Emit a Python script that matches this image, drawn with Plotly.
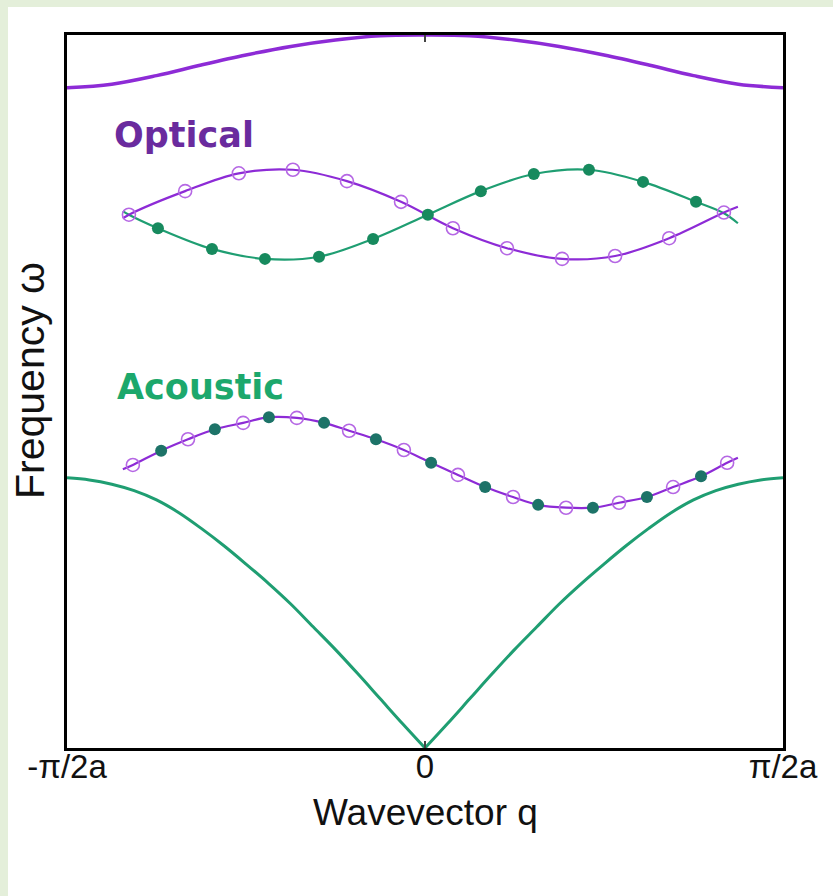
import plotly.graph_objects as go

# ---------------- data (q in units of pi/2a, omega normalised to the top of the frame) ----------------
q_opt = [-1.0, -0.875, -0.75, -0.625, -0.5, -0.375, -0.25, -0.125, 0.0,
         0.125, 0.25, 0.375, 0.5, 0.625, 0.75, 0.875, 1.0]
optical_branch = [0.926, 0.931, 0.943, 0.958, 0.972, 0.984, 0.993, 0.999, 1.000,
                  0.999, 0.993, 0.984, 0.972, 0.958, 0.943, 0.931, 0.926]

q_ac_left = [-1.0, -0.9375, -0.875, -0.8125, -0.75, -0.6875, -0.625, -0.5625, -0.5,
             -0.4375, -0.375, -0.3125, -0.25, -0.1875, -0.125, -0.0625, 0.0]
acoustic_left = [0.379, 0.376, 0.370, 0.361, 0.348, 0.330, 0.308, 0.284, 0.258,
                 0.231, 0.202, 0.170, 0.138, 0.104, 0.069, 0.034, 0.000]
q_ac_right = [0.0, 0.0625, 0.125, 0.1875, 0.25, 0.3125, 0.375, 0.4375, 0.5,
              0.5625, 0.625, 0.6875, 0.75, 0.8125, 0.875, 0.9375, 1.0]
acoustic_right = [0.000, 0.034, 0.069, 0.104, 0.138, 0.170, 0.202, 0.231, 0.258,
                  0.284, 0.308, 0.330, 0.348, 0.361, 0.370, 0.376, 0.379]

# optical-mode displacement sketch
opt_purple_line_q = [-0.844, -0.827, -0.670, -0.520, -0.369, -0.218, -0.067, 0.078, 0.229, 0.383, 0.531, 0.682, 0.835, 0.874]
opt_purple_line_w = [0.743, 0.748, 0.781, 0.806, 0.811, 0.795, 0.766, 0.729, 0.701, 0.686, 0.690, 0.715, 0.751, 0.759]
opt_purple_mark_q = [-0.827, -0.670, -0.520, -0.369, -0.218, -0.067, 0.078, 0.229, 0.383, 0.531, 0.682, 0.835]
opt_purple_mark_w = [0.748, 0.781, 0.806, 0.811, 0.795, 0.766, 0.729, 0.701, 0.686, 0.690, 0.715, 0.751]
opt_green_line_q = [-0.844, -0.827, -0.746, -0.595, -0.447, -0.296, -0.145, 0.008, 0.156, 0.304, 0.458, 0.609, 0.757, 0.835, 0.874]
opt_green_line_w = [0.753, 0.748, 0.729, 0.700, 0.686, 0.689, 0.714, 0.748, 0.781, 0.805, 0.811, 0.794, 0.766, 0.750, 0.736]
opt_green_mark_q = [-0.746, -0.595, -0.447, -0.296, -0.145, 0.008, 0.156, 0.304, 0.458, 0.609, 0.757]
opt_green_mark_w = [0.729, 0.700, 0.686, 0.689, 0.714, 0.748, 0.781, 0.805, 0.811, 0.794, 0.766]

# acoustic-mode displacement sketch
ac_line_q = [-0.844, -0.816, -0.737, -0.662, -0.587, -0.508, -0.436, -0.358, -0.282, -0.212, -0.137,
             -0.059, 0.017, 0.092, 0.168, 0.246, 0.316, 0.394, 0.469, 0.542, 0.620, 0.693, 0.771, 0.844, 0.874]
ac_line_w = [0.391, 0.397, 0.417, 0.433, 0.447, 0.456, 0.464, 0.463, 0.456, 0.445, 0.433,
             0.418, 0.400, 0.383, 0.366, 0.352, 0.341, 0.337, 0.337, 0.344, 0.352, 0.366, 0.381, 0.400, 0.407]
ac_purple_mark_q = [-0.816, -0.662, -0.508, -0.358, -0.212, -0.059, 0.092, 0.246, 0.394, 0.542, 0.693, 0.844]
ac_purple_mark_w = [0.397, 0.433, 0.456, 0.463, 0.445, 0.418, 0.383, 0.352, 0.337, 0.344, 0.366, 0.400]
ac_green_mark_q = [-0.737, -0.587, -0.436, -0.282, -0.137, 0.017, 0.168, 0.316, 0.469, 0.620, 0.771]
ac_green_mark_w = [0.417, 0.447, 0.464, 0.456, 0.433, 0.400, 0.366, 0.341, 0.337, 0.352, 0.381]

tick_vals = [-1, 0, 1]
tick_text = ["-\u03c0/2a", "0", "\u03c0/2a"]

PURPLE = "#8d2bd6"
PURPLE_LIGHT = "#b567e4"
GREEN = "#1f9e72"
GREEN_DARK = "#178a5e"
TEAL_DARK = "#1d7368"

fig = go.Figure()

# big dispersion branches
fig.add_trace(go.Scatter(x=q_opt, y=optical_branch, mode="lines",
                         line=dict(color=PURPLE, width=3.5, shape="spline", smoothing=1.0),
                         hoverinfo="skip"))
fig.add_trace(go.Scatter(x=q_ac_left, y=acoustic_left, mode="lines",
                         line=dict(color=GREEN, width=3, shape="spline", smoothing=1.0),
                         hoverinfo="skip"))
fig.add_trace(go.Scatter(x=q_ac_right, y=acoustic_right, mode="lines",
                         line=dict(color=GREEN, width=3, shape="spline", smoothing=1.0),
                         hoverinfo="skip"))

# optical displacement sketch
fig.add_trace(go.Scatter(x=opt_green_line_q, y=opt_green_line_w, mode="lines",
                         line=dict(color=GREEN, width=2.2, shape="spline"), hoverinfo="skip"))
fig.add_trace(go.Scatter(x=opt_purple_line_q, y=opt_purple_line_w, mode="lines",
                         line=dict(color=PURPLE, width=2.2, shape="spline"), hoverinfo="skip"))
fig.add_trace(go.Scatter(x=opt_green_mark_q, y=opt_green_mark_w, mode="markers",
                         marker=dict(color=GREEN_DARK, size=12, line=dict(width=0)), hoverinfo="skip"))
fig.add_trace(go.Scatter(x=opt_purple_mark_q, y=opt_purple_mark_w, mode="markers",
                         marker=dict(color=PURPLE_LIGHT, size=13, symbol="circle-open",
                                     line=dict(color=PURPLE_LIGHT, width=1.6)), hoverinfo="skip"))

# acoustic displacement sketch
fig.add_trace(go.Scatter(x=ac_line_q, y=ac_line_w, mode="lines",
                         line=dict(color=PURPLE, width=2.2, shape="spline"), hoverinfo="skip"))
fig.add_trace(go.Scatter(x=ac_green_mark_q, y=ac_green_mark_w, mode="markers",
                         marker=dict(color=TEAL_DARK, size=12, line=dict(width=0)), hoverinfo="skip"))
fig.add_trace(go.Scatter(x=ac_purple_mark_q, y=ac_purple_mark_w, mode="markers",
                         marker=dict(color=PURPLE_LIGHT, size=13, symbol="circle-open",
                                     line=dict(color=PURPLE_LIGHT, width=1.6)),
                         hoverinfo="skip"))

tick_font = dict(family="Liberation Sans, Arial, sans-serif", size=33, color="#111111")
title_font = dict(family="Liberation Sans, Arial, sans-serif", size=37, color="#111111")
ylab_font = dict(family="Liberation Sans, Arial, sans-serif", size=41, color="#111111")

fig.update_layout(
    width=833, height=896,
    margin=dict(l=67, r=50, t=35, b=148),
    paper_bgcolor="#e4efda",
    plot_bgcolor="white",
    showlegend=False,
    xaxis=dict(range=[-1, 1], tickvals=tick_vals, ticktext=tick_text,
               showgrid=False, zeroline=False,
               showline=True, linecolor="black", linewidth=3, mirror="ticks",
               ticks="inside", ticklen=7, tickwidth=1.5, tickcolor="#444444",
               tickfont=tick_font, ticklabelstandoff=-13),
    yaxis=dict(range=[0, 1], showticklabels=False, ticks="",
               showgrid=False, zeroline=False,
               showline=True, linecolor="black", linewidth=3, mirror=True),
    shapes=[dict(type="rect", xref="paper", yref="paper",
                 x0=(8 - 67) / 716, x1=(860 - 67) / 716,
                 y0=-(930 - 748) / 713, y1=(748 - 7) / 713,
                 fillcolor="white", line=dict(width=0), layer="below")],
    annotations=[
        dict(text="Optical", x=-0.874, y=0.860, xref="x", yref="y", xanchor="left", yanchor="middle",
             showarrow=False, font=dict(family="DejaVu Sans, Verdana, sans-serif", size=35,
                                        color="#6a2b9e", weight="bold")),
        dict(text="Acoustic", x=-0.866, y=0.507, xref="x", yref="y", xanchor="left", yanchor="middle",
             showarrow=False, font=dict(family="DejaVu Sans, Verdana, sans-serif", size=35,
                                        color="#1ca86c", weight="bold")),
        dict(text="Wavevector q", x=0.5, y=-(812 - 748) / 713, xref="paper", yref="paper",
             xanchor="center", yanchor="middle", showarrow=False, font=title_font),
        dict(text="Frequency \u03c9", x=(30 - 67) / 716, y=(748 - 381) / 713, xref="paper", yref="paper",
             xanchor="center", yanchor="middle", textangle=-90, showarrow=False, font=ylab_font),
    ],
)

fig.write_html("out.html", config={"displayModeBar": False},
               post_script="document.body.style.margin='0px';document.body.style.overflow='hidden';")
